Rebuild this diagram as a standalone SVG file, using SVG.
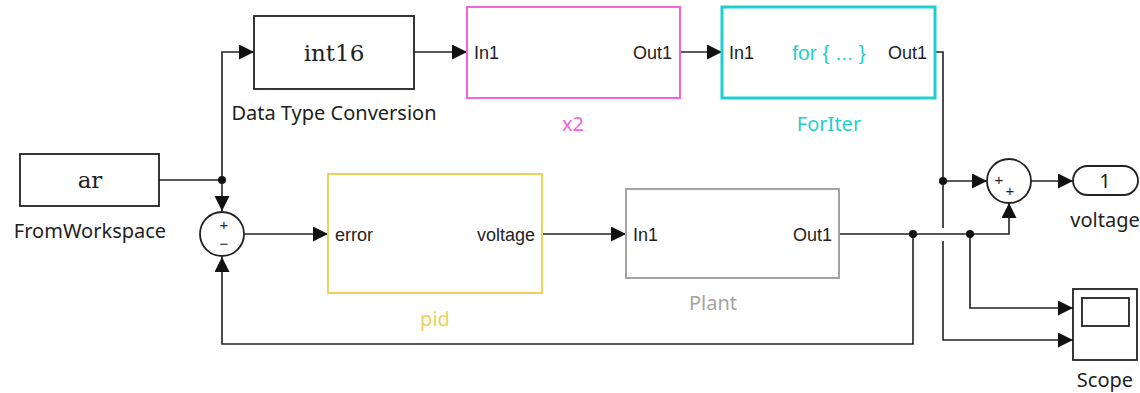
<svg xmlns="http://www.w3.org/2000/svg" width="1140" height="393" viewBox="0 0 1140 393">
<style>
.blk{fill:#fff;stroke:#222;stroke-width:1.8}
.ln{fill:none;stroke:#222;stroke-width:1.6}
.port{font-family:"Liberation Sans",Arial,sans-serif;font-size:18px;fill:#222}
.lbl{font-family:"Noto Sans","Open Sans",sans-serif;font-size:20px;fill:#222;text-anchor:middle}
.mono{font-family:"DejaVu Serif","Liberation Serif",serif;font-size:23px;fill:#222;text-anchor:middle}
.sgn{font-family:"Liberation Sans",Arial,sans-serif;font-size:15px;fill:#222;text-anchor:middle}
.dot{fill:#111}
</style>
<defs>
<marker id="ah" markerUnits="userSpaceOnUse" markerWidth="16" markerHeight="16" refX="15" refY="7.5" orient="auto">
<path d="M0,0 L15,7.5 L0,15 Z" fill="#111"/>
</marker>
</defs>
<g id="connectors">
<path class="ln" d="M159,180 H222"/>
<path class="ln" d="M222,180 V52 H254" marker-end="url(#ah)"/>
<path class="ln" d="M222,180 V211" marker-end="url(#ah)"/>
<path class="ln" d="M414,52 H467" marker-end="url(#ah)"/>
<path class="ln" d="M680,52 H722" marker-end="url(#ah)"/>
<path class="ln" d="M245,234 H328" marker-end="url(#ah)"/>
<path class="ln" d="M542,234 H626" marker-end="url(#ah)"/>
<path class="ln" d="M839,234 H1009 V203" marker-end="url(#ah)"/>
<path class="ln" d="M913,234 V344 H222 V257" marker-end="url(#ah)"/>
<path class="ln" d="M970,234 V308 H1073" marker-end="url(#ah)"/>
<path class="ln" d="M936,52 H943 V228"/>
<path class="ln" d="M943,241 V340 H1073" marker-end="url(#ah)"/>
<path class="ln" d="M943,181 H987" marker-end="url(#ah)"/>
<path class="ln" d="M1031,181 H1073" marker-end="url(#ah)"/>
<circle class="dot" cx="222" cy="180" r="4"/>
<circle class="dot" cx="913" cy="234" r="4"/>
<circle class="dot" cx="970" cy="234" r="4"/>
<circle class="dot" cx="943" cy="181" r="4"/>
</g>
<g id="fromworkspace">
<rect class="blk" x="20" y="154" width="139" height="52"/>
<text class="mono" x="90" y="188">ar</text>
<text class="lbl" x="90" y="238">FromWorkspace</text>
</g>
<g id="dtc">
<rect class="blk" x="254" y="16" width="160" height="73"/>
<text class="mono" x="334" y="61">int16</text>
<text class="lbl" x="334" y="120">Data Type Conversion</text>
</g>
<g id="x2">
<rect x="467" y="7" width="213" height="91" fill="#fff" stroke="#f563d9" stroke-width="2"/>
<text class="port" x="474" y="59">In1</text>
<text class="port" x="672" y="59" text-anchor="end">Out1</text>
<text class="lbl" x="573" y="131" style="fill:#f563d9">x2</text>
</g>
<g id="foriter">
<rect x="722" y="7" width="213" height="91" fill="#fff" stroke="#1fcfcf" stroke-width="3"/>
<text class="port" x="729" y="59">In1</text>
<text class="port" x="829" y="60" text-anchor="middle" style="fill:#1fcfcf;font-size:21px">for { ... }</text>
<text class="port" x="927" y="59" text-anchor="end">Out1</text>
<text class="lbl" x="829" y="131" style="fill:#1fcfcf">ForIter</text>
</g>
<g id="sum1">
<circle cx="222" cy="234" r="22" fill="#fff" stroke="#222" stroke-width="1.8"/>
<text class="sgn" x="224" y="230">+</text>
<text class="sgn" x="224" y="249">−</text>
</g>
<g id="pid">
<rect x="328" y="174" width="214" height="119" fill="#fff" stroke="#ecd25c" stroke-width="2"/>
<text class="port" x="335" y="241">error</text>
<text class="port" x="535" y="241" text-anchor="end">voltage</text>
<text class="lbl" x="435" y="326" style="fill:#ecd25c">pid</text>
</g>
<g id="plant">
<rect x="626" y="189" width="213" height="89" fill="#fff" stroke="#a3a3a3" stroke-width="2"/>
<text class="port" x="633" y="241">In1</text>
<text class="port" x="832" y="241" text-anchor="end">Out1</text>
<text class="lbl" x="713" y="310" style="fill:#a3a3a3">Plant</text>
</g>
<g id="sum2">
<circle cx="1009" cy="181" r="22" fill="#fff" stroke="#222" stroke-width="1.8"/>
<text class="sgn" x="999" y="185">+</text>
<text class="sgn" x="1010" y="196">+</text>
</g>
<g id="outport">
<rect class="blk" x="1073" y="166" width="65" height="29" rx="14.5"/>
<text class="lbl" x="1105" y="188">1</text>
<text class="lbl" x="1105" y="227">voltage</text>
</g>
<g id="scope">
<rect class="blk" x="1073" y="289" width="64" height="71"/>
<rect class="blk" x="1082" y="298" width="47" height="28"/>
<text class="lbl" x="1105" y="387">Scope</text>
</g>
</svg>
